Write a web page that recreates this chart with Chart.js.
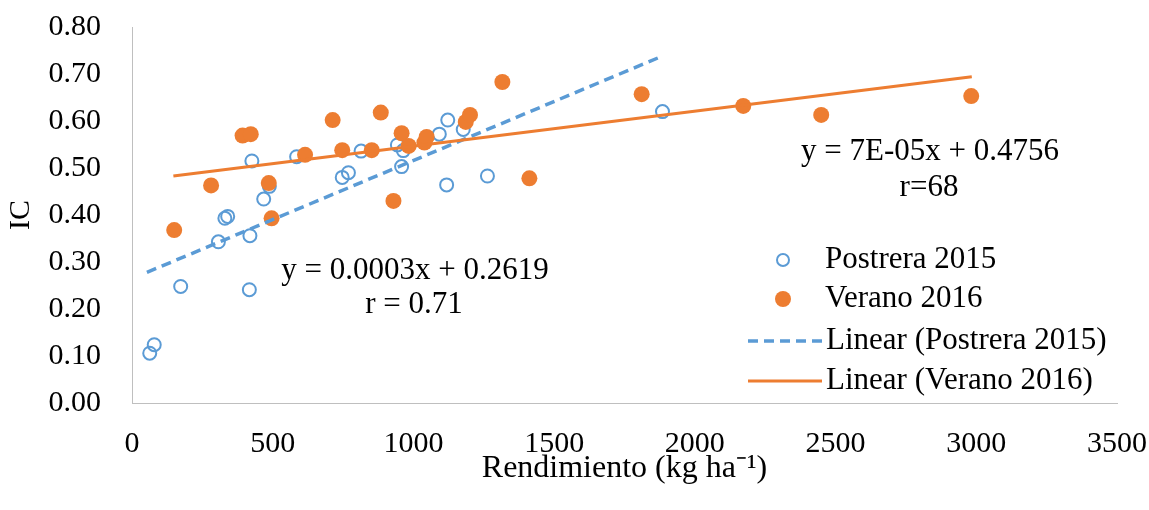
<!DOCTYPE html>
<html>
<head>
<meta charset="utf-8">
<script src="https://cdn.jsdelivr.net/npm/chart.js@4.4.0/dist/chart.umd.min.js"></script>
<style>
  html, body { margin: 0; padding: 0; background: #fff; }
</style>
</head>
<body>
<canvas id="chart" width="1149" height="510"></canvas>
<script>
// Postrera 2015 (open blue circles)
const postreraX = [63, 79, 173, 307, 330, 340, 417, 419, 426, 468, 488, 585, 747, 769, 814, 943, 964, 958, 1092, 1122, 1177, 1118, 1263, 1885];
const postreraY = [0.106, 0.124, 0.248, 0.343, 0.393, 0.397, 0.241, 0.356, 0.515, 0.434, 0.461, 0.524, 0.480, 0.490, 0.536, 0.549, 0.537, 0.503, 0.572, 0.602, 0.582, 0.464, 0.483, 0.620];

// Verano 2016 (filled orange dots)
const veranoX = [150, 281, 393, 422, 486, 496, 615, 713, 747, 852, 884, 929, 958, 983, 1039, 1047, 1186, 1201, 1316, 1412, 1811, 2172, 2449, 2982];
const veranoY = [0.368, 0.463, 0.569, 0.572, 0.468, 0.393, 0.528, 0.602, 0.538, 0.538, 0.618, 0.430, 0.574, 0.547, 0.554, 0.566, 0.598, 0.613, 0.683, 0.478, 0.657, 0.632, 0.613, 0.653];

// trendline end points
const trendPostreraX = [53, 1876];
const trendPostreraY = [0.278, 0.736];
const trendVeranoX = [147, 2984];
const trendVeranoY = [0.483, 0.694];

const yTicks = [0, 0.1, 0.2, 0.3, 0.4, 0.5, 0.6, 0.7, 0.8];

const blue = '#5b9bd5';
const orange = '#ed7d31';
const serif = '"Liberation Serif", "Times New Roman", serif';

function toPoints(xs, ys) {
    return xs.map((x, i) => ({ x: x, y: ys[i] }));
}

// equation labels and legend, drawn on the canvas after the chart
const extras = {
    id: 'extras',
    afterDraw(chart) {
        const ctx = chart.ctx;
        ctx.save();
        ctx.fillStyle = '#000';
        ctx.font = '31px ' + serif;
        ctx.textAlign = 'center';
        ctx.textBaseline = 'middle';
        ctx.fillText('y = 0.0003x + 0.2619', 415, 271);
        ctx.fillText('r = 0.71', 414, 305);
        ctx.fillText('y = 7E-05x + 0.4756', 930, 152);
        ctx.fillText('r=68', 929, 188);

        // legend
        ctx.textAlign = 'left';
        ctx.lineWidth = 2;
        ctx.strokeStyle = blue;
        ctx.beginPath();
        ctx.arc(783, 260, 6, 0, Math.PI * 2);
        ctx.stroke();
        ctx.fillStyle = orange;
        ctx.beginPath();
        ctx.arc(783, 299, 8, 0, Math.PI * 2);
        ctx.fill();

        ctx.lineWidth = 3.5;
        ctx.setLineDash([10, 6]);
        ctx.beginPath();
        ctx.moveTo(748, 341);
        ctx.lineTo(822, 341);
        ctx.stroke();
        ctx.setLineDash([]);
        ctx.lineWidth = 3;
        ctx.strokeStyle = orange;
        ctx.beginPath();
        ctx.moveTo(748, 381);
        ctx.lineTo(822, 381);
        ctx.stroke();

        ctx.fillStyle = '#000';
        ctx.fillText('Postrera 2015', 825, 260);
        ctx.fillText('Verano 2016', 825, 299);
        ctx.fillText('Linear (Postrera 2015)', 826, 341);
        ctx.fillText('Linear (Verano 2016)', 826, 381);
        ctx.restore();
    }
};

const ctx = document.getElementById('chart').getContext('2d');
new Chart(ctx, {
    type: 'scatter',
    data: {
        datasets: [
            {
                label: 'Linear (Verano 2016)',
                data: toPoints(trendVeranoX, trendVeranoY),
                showLine: true,
                borderColor: orange,
                borderWidth: 3,
                pointRadius: 0,
                order: 0
            },
            {
                label: 'Linear (Postrera 2015)',
                data: toPoints(trendPostreraX, trendPostreraY),
                showLine: true,
                borderColor: blue,
                borderWidth: 3.5,
                borderDash: [10, 6],
                pointRadius: 0,
                order: 1
            },
            {
                label: 'Verano 2016',
                data: toPoints(veranoX, veranoY),
                backgroundColor: orange,
                borderColor: orange,
                borderWidth: 0,
                pointRadius: 8,
                order: 2
            },
            {
                label: 'Postrera 2015',
                data: toPoints(postreraX, postreraY),
                backgroundColor: 'rgba(0,0,0,0)',
                borderColor: blue,
                borderWidth: 2,
                pointRadius: 6.5,
                order: 3
            }
        ]
    },
    options: {
        responsive: false,
        animation: false,
        devicePixelRatio: 1,
        layout: { padding: { left: 0, top: 27, right: 32, bottom: 0 } },
        plugins: {
            legend: { display: false },
            tooltip: { enabled: false }
        },
        scales: {
            x: {
                type: 'linear',
                min: 0,
                max: 3500,
                afterFit: scale => {
                    scale.height = 107;
                    scale.paddingLeft = 0;
                    scale.paddingRight = 0;
                },
                grid: { display: false, drawTicks: false },
                border: { display: true, color: '#bfbfbf', width: 1 },
                ticks: {
                    stepSize: 500,
                    padding: 23,
                    color: '#000',
                    font: { family: serif, size: 30 },
                    maxRotation: 0,
                    callback: v => String(v)
                },
                title: {
                    display: true,
                    text: 'Rendimiento (kg ha⁻¹)',
                    color: '#000',
                    font: { family: serif, size: 32 },
                    padding: { top: 0, bottom: 22 }
                }
            },
            y: {
                type: 'linear',
                min: 0,
                max: 0.8,
                afterFit: scale => {
                    scale.width = 132;
                    scale.paddingTop = 0;
                    scale.paddingBottom = 0;
                },
                afterBuildTicks: scale => { scale.ticks = yTicks.map(v => ({ value: v })); },
                grid: { display: false, drawTicks: false },
                border: { display: true, color: '#bfbfbf', width: 1 },
                ticks: {
                    padding: 31,
                    color: '#000',
                    font: { family: serif, size: 30 },
                    callback: v => v.toFixed(2)
                },
                title: {
                    display: true,
                    text: 'IC',
                    color: '#000',
                    font: { family: serif, size: 30 },
                    padding: { top: 3, bottom: 0 }
                }
            }
        }
    },
    plugins: [extras]
});
</script>
</body>
</html>
